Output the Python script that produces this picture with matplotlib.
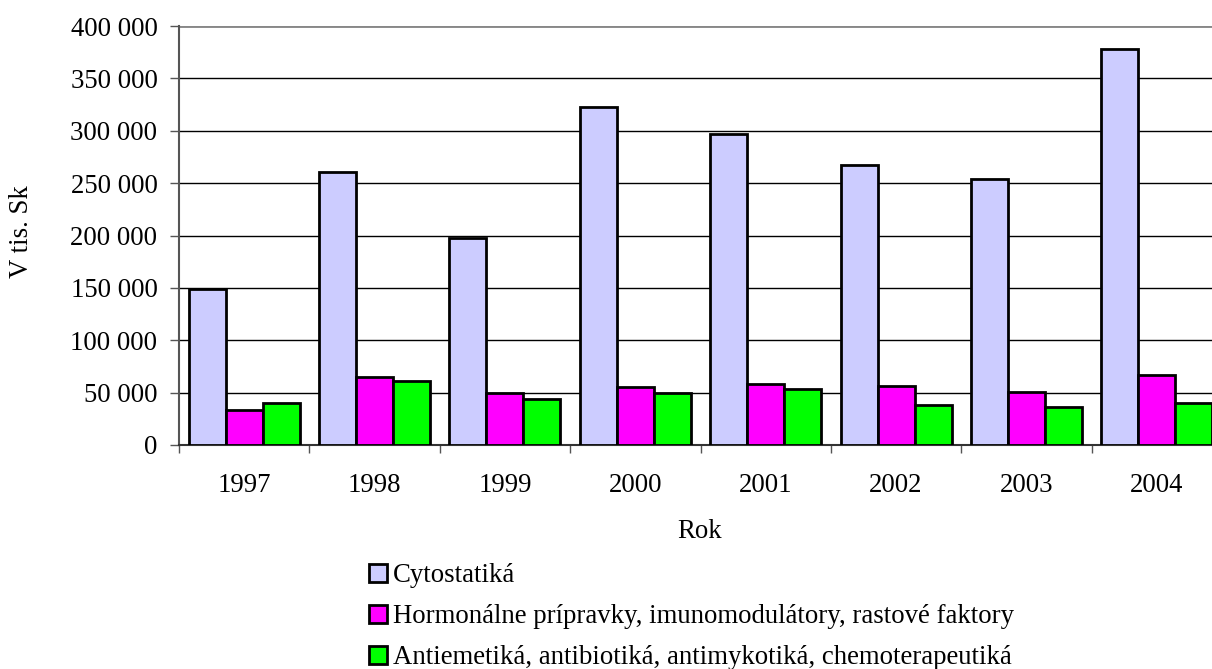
import matplotlib
matplotlib.use("Agg")
import matplotlib.pyplot as plt
from matplotlib.patches import Patch
from matplotlib.ticker import FuncFormatter, MultipleLocator
import numpy as np

years = ["1997", "1998", "1999", "2000", "2001", "2002", "2003", "2004"]
cytostatika = [149000, 261000, 198000, 323000, 297000, 267000, 254000, 378000]
hormonalne = [33000, 64500, 49500, 55500, 58000, 56500, 51000, 66500]
antiemetika = [40000, 61500, 44000, 50000, 53000, 38000, 36000, 40000]
series_names = [
    "Cytostatiká",
    "Hormonálne prípravky, imunomodulátory, rastové faktory",
    "Antiemetiká, antibiotiká, antimykotiká, chemoterapeutiká",
]
colors = ["#CCCCFF", "#FF00FF", "#00FF00"]
y_label = "V tis. Sk"
x_label = "Rok"

plt.rcParams["font.family"] = ["Liberation Serif", "DejaVu Serif"]
FS = 19.3

W, H = 1212, 669
fig = plt.figure(figsize=(W / 100, H / 100), dpi=100)
ax_left, ax_right, ax_top, ax_bottom = 179, 1222, 26, 445
ax = fig.add_axes([ax_left / W, 1 - ax_bottom / H, (ax_right - ax_left) / W, (ax_bottom - ax_top) / H])

x = np.arange(len(years))
bw = 0.284
for i, (vals, c) in enumerate(zip([cytostatika, hormonalne, antiemetika], colors)):
    ax.bar(x + (i - 1) * bw, vals, width=bw, color=c, edgecolor="black", linewidth=2.0, zorder=3)

ax.set_xlim(-0.5, len(years) - 0.5)
ax.set_ylim(0, 400000)
ax.yaxis.set_major_locator(MultipleLocator(50000))
ax.yaxis.set_major_formatter(FuncFormatter(lambda v, p: f"{int(v):,}".replace(",", " ")))
ax.grid(axis="y", color="black", linewidth=1.0, zorder=0)
ax.set_axisbelow(True)

ax.set_xticks(x)
ax.set_xticklabels(years)
ax.set_xticks(np.arange(-0.5, len(years)), minor=True)
ax.tick_params(axis="x", which="major", length=0, pad=20, labelsize=FS)
ax.tick_params(axis="x", which="minor", length=6, width=1, color="#555555", direction="out")
ax.tick_params(axis="y", length=6.5, width=1, color="#555555", direction="out", labelsize=FS, pad=9)

for s in ["top", "right"]:
    ax.spines[s].set_visible(False)
ax.spines["left"].set_color("#555555")
ax.spines["left"].set_linewidth(1.5)
ax.spines["bottom"].set_color("#333333")
ax.spines["bottom"].set_linewidth(1.5)
ax.axhline(400000, color="#888888", linewidth=2, zorder=1)

fig.text(22 / W, 1 - 232 / H, y_label, rotation=90, ha="center", va="center", fontsize=FS)
fig.text(700 / W, 1 - 532 / H, x_label, ha="center", va="center", fontsize=FS)

handles = [Patch(facecolor=c, edgecolor="black", linewidth=2) for c in colors]
fig.legend(handles, series_names, loc="upper left", bbox_to_anchor=(369 / W, 1 - 563 / H),
           frameon=False, fontsize=FS, handlelength=0.66, handleheight=0.66,
           handletextpad=0.22, labelspacing=0.6, borderpad=0, borderaxespad=0)

fig.savefig("out.png", dpi=100)
